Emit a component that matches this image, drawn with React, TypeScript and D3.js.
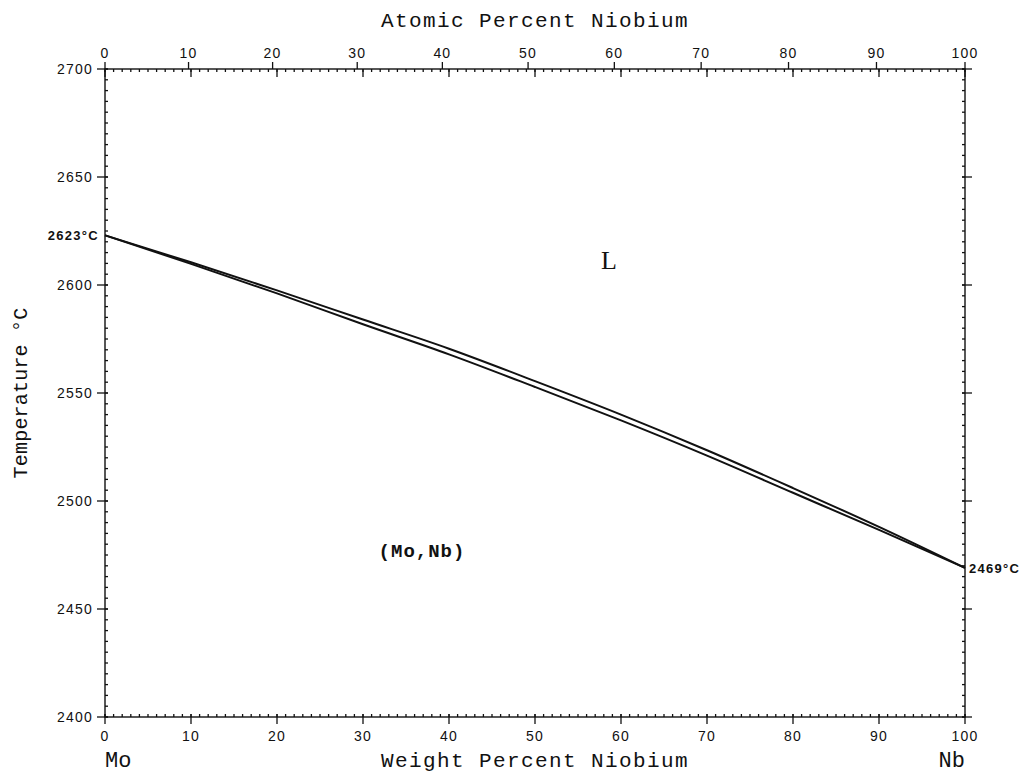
import React from "react";
import * as d3 from "d3";

const wtTicks = [0, 10, 20, 30, 40, 50, 60, 70, 80, 90, 100];
const atTicks = [0, 10, 20, 30, 40, 50, 60, 70, 80, 90, 100];
const tempTicks = [2400, 2450, 2500, 2550, 2600, 2650, 2700];

// liquidus & solidus (weight percent Nb, temperature °C)
const liqWt = [0, 10, 20, 30, 40, 50, 60, 70, 80, 90, 100];
const liqT = [2623, 2610.5, 2597.5, 2584, 2570.5, 2555.5, 2540, 2523.5, 2506, 2488, 2469];
const solWt = [0, 10, 20, 30, 40, 50, 60, 70, 80, 90, 100];
const solT = [2623, 2609.8, 2596.1, 2581.8, 2567.9, 2552.8, 2537.3, 2521, 2503.8, 2486.6, 2469];

const M_MO = 95.95;
const M_NB = 92.91;
const atToWt = (a: number) => (a * M_NB) / (a * M_NB + (100 - a) * M_MO) * 100;

const W = 1030, H = 773;
const L = 105, R = 965, T = 69, B = 717;

export default function App() {
  const x = d3.scaleLinear().domain([0, 100]).range([L, R]);
  const y = d3.scaleLinear().domain([2400, 2700]).range([B, T]);
  const line = d3.line<[number, number]>().x(d => x(d[0])).y(d => y(d[1])).curve(d3.curveMonotoneX);
  const liq = liqWt.map((w, i) => [w, liqT[i]] as [number, number]);
  const sol = solWt.map((w, i) => [w, solT[i]] as [number, number]);
  const minorWt = d3.range(0, 101, 1);
  const minorT = d3.range(2400, 2701, 5);
  const mono = "'Liberation Mono', 'DejaVu Sans Mono', monospace";
  const sans = "'Liberation Sans', Arial, sans-serif";
  const serif = "'Liberation Serif', 'DejaVu Serif', serif";
  const stroke = "#111";
  return (
    <svg width={W} height={H} style={{ position: "absolute", left: 0, top: 0, background: "#fff" }}>
      <rect x={0} y={0} width={W} height={H} fill="#fff" />
      {/* frame */}
      <rect x={L} y={T} width={R - L} height={B - T} fill="none" stroke={stroke} strokeWidth={1.4} />
      {/* minor ticks, weight percent: top & bottom */}
      {minorWt.map(v => (
        <g key={"mw" + v}>
          <line x1={x(v)} x2={x(v)} y1={T} y2={T + 3} stroke={stroke} strokeWidth={1.3} />
          <line x1={x(v)} x2={x(v)} y1={B} y2={B - 3} stroke={stroke} strokeWidth={1.3} />
        </g>
      ))}
      {/* major weight ticks */}
      {wtTicks.map(v => (
        <g key={"w" + v}>
          <line x1={x(v)} x2={x(v)} y1={T} y2={T + 8} stroke={stroke} strokeWidth={1.3} />
          <line x1={x(v)} x2={x(v)} y1={B - 3} y2={B + 7} stroke={stroke} strokeWidth={1.3} />
          <text x={x(v)} y={741} textAnchor="middle" fontFamily={sans} fontSize={14} letterSpacing={1.2} fill={stroke}>{v}</text>
        </g>
      ))}
      {/* atomic percent ticks on top */}
      {atTicks.map(v => (
        <g key={"a" + v}>
          <line x1={x(atToWt(v))} x2={x(atToWt(v))} y1={T} y2={T - 7} stroke={stroke} strokeWidth={1.3} />
          <text x={x(atToWt(v))} y={58} textAnchor="middle" fontFamily={sans} fontSize={14} letterSpacing={1.2} fill={stroke}>{v}</text>
        </g>
      ))}
      {/* temperature ticks */}
      {minorT.map(v => (
        <g key={"mt" + v}>
          <line x1={L} x2={L + 3} y1={y(v)} y2={y(v)} stroke={stroke} strokeWidth={1.3} />
          <line x1={R} x2={R - 3} y1={y(v)} y2={y(v)} stroke={stroke} strokeWidth={1.3} />
        </g>
      ))}
      {tempTicks.map(v => (
        <g key={"t" + v}>
          <line x1={L - 8} x2={L + 3} y1={y(v)} y2={y(v)} stroke={stroke} strokeWidth={1.3} />
          <line x1={R + 7} x2={R - 3} y1={y(v)} y2={y(v)} stroke={stroke} strokeWidth={1.3} />
          <text x={93} y={y(v) + 5} textAnchor="end" fontFamily={sans} fontSize={14} letterSpacing={1.2} fill={stroke}>{v}</text>
        </g>
      ))}
      {/* curves */}
      <path d={line(liq) || ""} fill="none" stroke={stroke} strokeWidth={2} />
      <path d={line(sol) || ""} fill="none" stroke={stroke} strokeWidth={2} />
      {/* end labels */}
      <text x={99} y={y(2623) + 5} textAnchor="end" fontFamily={sans} fontWeight="bold" fontSize={13} letterSpacing={1.3} fill={stroke}>2623°C</text>
      <text x={969} y={y(2469) + 5} textAnchor="start" fontFamily={sans} fontWeight="bold" fontSize={13} letterSpacing={1.3} fill={stroke}>2469°C</text>
      {/* axis titles */}
      <text x={535} y={27} textAnchor="middle" fontFamily={mono} fontSize={21} letterSpacing={1.4} fill={stroke}>Atomic Percent Niobium</text>
      <text x={535} y={767} textAnchor="middle" fontFamily={mono} fontSize={21} letterSpacing={1.4} fill={stroke}>Weight Percent Niobium</text>
      <text transform={`translate(27,${y(2550)}) rotate(-90)`} textAnchor="middle" fontFamily={mono} fontSize={20} letterSpacing={0.2} fill={stroke}>Temperature °C</text>
      <text x={105} y={767} fontFamily={mono} fontSize={22} fill={stroke}>Mo</text>
      <text x={965} y={767} textAnchor="end" fontFamily={mono} fontSize={22} fill={stroke}>Nb</text>
      {/* phase labels */}
      <text x={609} y={269} textAnchor="middle" fontFamily={serif} fontSize={26} fill={stroke}>L</text>
      <text x={422} y={557} textAnchor="middle" fontFamily={mono} fontWeight="bold" fontSize={19} letterSpacing={1} fill={stroke}>(Mo,Nb)</text>
    </svg>
  );
}
